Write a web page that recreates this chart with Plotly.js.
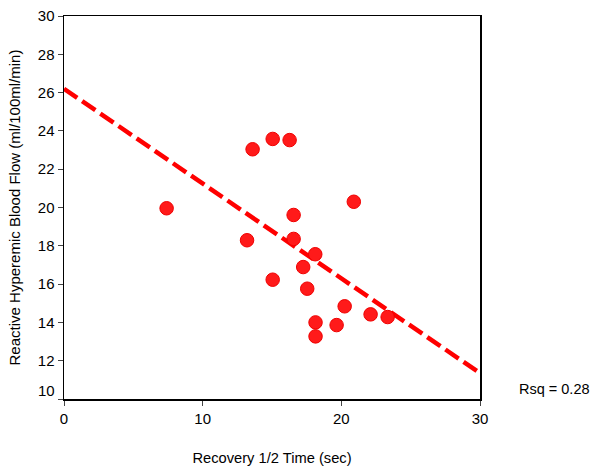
<!DOCTYPE html>
<html>
<head>
<meta charset="utf-8">
<script src="https://cdn.plot.ly/plotly-3.0.1.min.js"></script>
<style>html,body{margin:0;padding:0;background:#fff;}#chart{width:592px;height:466px;}</style>
</head>
<body>
<div id="chart"></div>
<script>
var recoveryTime = [7.4, 13.6, 15.05, 16.27, 20.9, 16.56, 13.2, 16.56, 18.12, 17.25, 15.05, 17.54, 20.24, 22.11, 23.34, 19.66, 18.14, 18.14];
var bloodFlow    = [19.96, 23.04, 23.58, 23.52, 20.3, 19.61, 18.29, 18.36, 17.56, 16.89, 16.23, 15.76, 14.84, 14.42, 14.28, 13.86, 14.0, 13.27];
var fitX = [0, 30];
var fitY = [26.2, 11.35];
var yTickVals = [10, 12, 14, 16, 18, 20, 22, 24, 26, 28, 30];
var yTickText = ['', '12', '14', '16', '18', '20', '22', '24', '26', '28', '30'];
var xTickVals = [0, 10, 20, 30];
var rsqLabel = 'Rsq = 0.28';

var font = 'Liberation Sans, Arial, sans-serif';
var data = [
  {x: fitX, y: fitY, mode: 'lines', type: 'scatter',
   line: {color: '#ff0000', width: 4.5, dash: '16px,6px'}, hoverinfo: 'skip'},
  {x: recoveryTime, y: bloodFlow, mode: 'markers', type: 'scatter',
   marker: {color: '#ff1a1a', size: 13.5, line: {color: '#f00000', width: 1}}}
];
var layout = {
  width: 592, height: 466,
  margin: {l: 64, r: 112, t: 16, b: 67},
  paper_bgcolor: '#fff', plot_bgcolor: '#fff',
  showlegend: false,
  font: {family: font, color: '#000'},
  xaxis: {range: [0, 30], tickvals: xTickVals, ticks: 'outside', ticklen: 5, tickwidth: 1,
          showline: true, linecolor: '#000', linewidth: 1.5, mirror: true, showgrid: false, zeroline: false,
          tickfont: {size: 15, family: font}, fixedrange: true,
          title: {text: 'Recovery 1/2 Time (sec)', font: {size: 14.7, family: font}, standoff: 36}},
  yaxis: {range: [10, 30], tickvals: yTickVals, ticktext: yTickText, ticks: 'outside', ticklen: 5, tickwidth: 1,
          showline: true, linecolor: '#000', linewidth: 1.5, mirror: true, showgrid: false, zeroline: false,
          tickfont: {size: 15, family: font}, fixedrange: true,
          title: {text: 'Reactive Hyperemic Blood Flow (ml/100ml/min)', font: {size: 15, family: font}, standoff: 13}},
  annotations: [
    {xref: 'paper', yref: 'y', x: 1, y: 10, xanchor: 'right', yanchor: 'middle', xshift: -423, yshift: 9,
     text: '10', showarrow: false, font: {size: 15, family: font}},
    {xref: 'paper', yref: 'paper', x: 1, y: 0, xanchor: 'center', yanchor: 'middle', xshift: 74, yshift: 10,
     text: rsqLabel, showarrow: false, font: {size: 14.5, family: font}}
  ]
};
Plotly.newPlot('chart', data, layout, {displayModeBar: false, staticPlot: true});
</script>
</body>
</html>
